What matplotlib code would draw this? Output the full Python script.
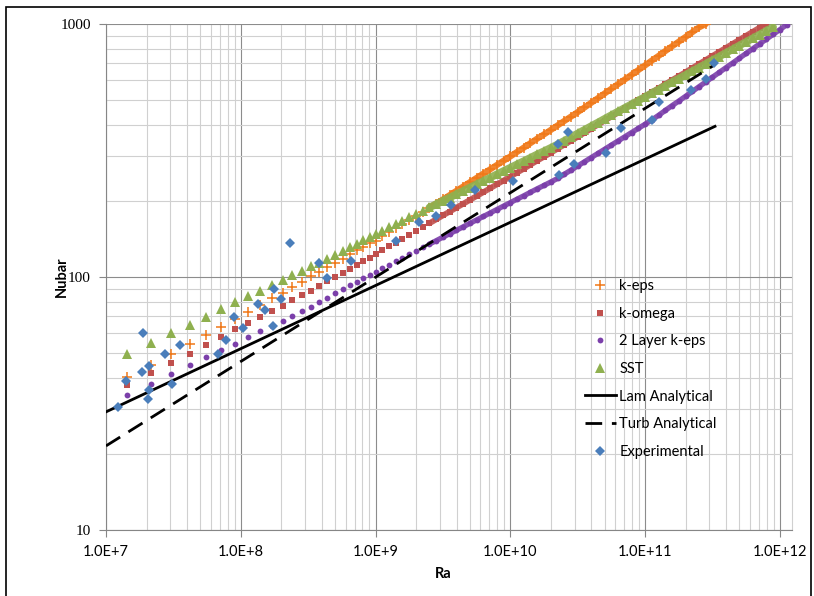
import matplotlib
matplotlib.use("Agg")
import matplotlib.pyplot as plt
from matplotlib.patches import Rectangle
from matplotlib.ticker import LogLocator, NullFormatter

# Ra values shared by the CFD series (sparse at low Ra, dense band above 1e9)
ra = [1.44e7, 2.15e7, 3.05e7, 4.17e7, 5.55e7, 7.19e7, 9.13e7, 1.14e8, 1.40e8, 1.70e8,
      2.04e8, 2.41e8, 2.84e8, 3.31e8, 3.83e8, 4.40e8, 5.02e8, 5.71e8, 6.45e8, 7.25e8,
      8.12e8, 9.05e8, 1.005e9,
      1.12e9, 1.26e9, 1.41e9, 1.58e9, 1.78e9, 2.00e9, 2.24e9, 2.51e9, 2.82e9, 3.16e9,
      3.55e9, 3.98e9, 4.47e9, 5.01e9, 5.62e9, 6.31e9, 7.08e9, 7.94e9, 8.91e9, 1.00e10,
      1.12e10, 1.26e10, 1.41e10, 1.58e10, 1.78e10, 2.00e10, 2.24e10, 2.51e10, 2.82e10, 3.16e10,
      3.55e10, 3.98e10, 4.47e10, 5.01e10, 5.62e10, 6.31e10, 7.08e10, 7.94e10, 8.91e10, 1.00e11,
      1.12e11, 1.26e11, 1.41e11, 1.58e11, 1.78e11, 2.00e11, 2.24e11, 2.51e11, 2.82e11, 3.16e11,
      3.55e11, 3.98e11, 4.47e11, 5.01e11, 5.62e11, 6.31e11, 7.08e11, 7.94e11, 8.91e11, 1.00e12,
      1.12e12]

nu_keps = [40.4, 44.9, 49.6, 54.4, 59.0, 63.6, 68.1, 72.9, 77.5, 82.4, 86.7, 91.6, 95.8,
           100.9, 104.9, 109.2, 113.9, 118.3, 122.9, 127.9, 131.8, 135.9, 139.4,
           144.6, 150.2, 155.9, 161.8, 168.0, 174.4, 181.0, 187.9, 195.1, 202.5,
           210.6, 219.0, 227.8, 236.9, 246.3, 256.2, 266.4, 277.0, 288.1, 299.6,
           311.9, 324.7, 338.1, 352.0, 366.4, 381.5, 397.2, 413.5, 430.5, 448.2,
           467.7, 488.1, 509.3, 531.5, 554.6, 578.8, 604.0, 630.2, 657.7, 686.3,
           716.7, 748.2, 781.2, 815.6, 851.8, 889.2, 928.5, 969.4, 1000]

nu_komega = [37.4, 41.6, 45.9, 49.6, 53.8, 58.1, 62.1, 65.6, 69.5, 73.6, 77.0, 81.1, 85.1,
             88.3, 92.4, 96.2, 100.3, 103.4, 107.5, 111.5, 115.3, 119.2, 122.9,
             127.4, 132.0, 136.7, 141.6, 146.7, 152.0, 157.5, 163.1, 169.0, 175.1,
             181.4, 187.9, 194.7, 201.6, 208.9, 216.4, 224.2, 232.3, 240.6, 249.3,
             258.5, 268.0, 278.0, 288.2, 298.9, 309.9, 321.4, 333.2, 345.5, 358.2,
             371.7, 385.6, 400.1, 415.1, 430.6, 446.8, 463.5, 480.9, 498.9, 517.6,
             537.0, 557.1, 578.0, 599.7, 622.2, 645.5, 669.7, 694.8, 720.8, 747.8,
             775.9, 804.9, 835.1, 866.4, 898.9, 932.6, 967.5, 1000]

nu_2layer = [34.2, 37.7, 41.3, 44.7, 48.1, 51.3, 54.5, 58.1, 61.3, 64.3, 67.2, 70.3, 73.4,
             76.4, 79.4, 82.8, 86.2, 89.4, 93.0, 95.8, 98.8, 102.1, 104.9,
             108.3, 111.7, 115.3, 119.0, 122.8, 126.7, 130.8, 134.9, 139.2, 143.7,
             148.3, 153.0, 157.9, 162.9, 168.1, 173.5, 179.1, 184.8, 190.7, 196.8,
             203.0, 209.5, 216.2, 223.1, 230.2, 237.6, 245.2, 254.7, 264.5, 274.8,
             285.4, 296.5, 308.0, 319.9, 332.3, 345.1, 358.5, 372.4, 386.8, 401.8,
             417.4, 435.8, 455.1, 475.2, 496.2, 518.2, 541.1, 565.1, 590.1, 616.2,
             643.5, 672.0, 701.7, 732.8, 765.2, 799.1, 834.5, 871.4, 910.0, 950.3,
             992.0]

nu_sst = [49.6, 54.7, 59.9, 64.4, 69.7, 74.5, 79.6, 84.1, 88.3, 93.0, 96.9, 101.8, 105.8,
          110.2, 113.9, 118.3, 122.7, 127.1, 131.4, 135.6, 140.0, 143.9, 147.9,
          152.4, 157.1, 161.9, 166.9, 172.0, 177.2, 182.7, 188.3, 194.0, 200.0,
          206.1, 212.4, 218.9, 225.7, 232.6, 239.7, 247.0, 254.6, 262.4, 270.4,
          278.7, 287.2, 296.0, 305.1, 314.4, 324.1, 334.0, 345.3, 357.1, 369.2,
          381.7, 394.6, 408.0, 421.9, 436.2, 451.0, 466.3, 482.0, 498.3, 515.2,
          532.7, 550.8, 569.5, 588.8, 608.8, 629.5, 650.9, 673.0, 695.8, 719.4,
          743.9, 769.1, 795.2, 822.2, 850.1, 879.0, 908.8, 939.7, 971.6]

# analytical correlations (straight lines on log-log)
ra_lam = [1.0e7, 3.3e11]
nu_lam = [29.3, 394.0]
ra_turb = [1.0e7, 3.3e11]
nu_turb = [21.5, 691.0]

# experimental points
ra_exp = [1.23e7, 1.41e7, 1.84e7, 1.87e7, 2.06e7, 2.08e7, 2.10e7, 2.76e7, 3.07e7, 3.56e7,
          6.77e7, 7.77e7, 8.95e7, 1.03e8, 1.34e8, 1.52e8, 1.73e8, 1.75e8, 1.99e8, 2.32e8,
          3.82e8, 4.40e8, 6.57e8, 1.43e9, 2.11e9, 2.79e9, 3.63e9, 5.44e9, 1.05e10, 2.25e10,
          2.66e10, 2.29e10, 2.97e10, 5.12e10, 6.62e10, 1.12e11, 1.27e11, 2.19e11, 2.81e11, 3.22e11]
nu_exp = [30.7, 38.8, 42.1, 59.9, 32.9, 35.8, 44.6, 49.6, 37.9, 53.8,
          49.5, 56.5, 69.8, 62.9, 78.0, 74.1, 64.3, 89.4, 82.1, 136.6,
          113.3, 98.8, 116.0, 139.4, 164.5, 174.2, 193.1, 220.1, 240.3, 336.5,
          375.2, 251.9, 279.8, 310.5, 387.0, 417.5, 491.7, 547.1, 604.5, 699.4]

xticks = [1e7, 1e8, 1e9, 1e10, 1e11, 1e12]
xlabels = ['1.0E+7', '1.0E+8', '1.0E+9', '1.0E+10', '1.0E+11', '1.0E+12']
yticks = [10, 100, 1000]
ylabels = ['10', '100', '1000']

W, H = 814, 596
fig = plt.figure(figsize=(W / 100, H / 100), dpi=100)
ax = fig.add_axes([106 / W, 1 - 530 / H, 686 / W, 506 / H])
ax.set_xscale('log')
ax.set_yscale('log')

# where the CFD markers crowd together into a solid band
band = 30


def cfd(nu, marker, ms, mew, color, label, z, lw):
    x = ra[:len(nu)]
    # overlapping markers at high Ra look like a thick band in the original
    ax.plot(x[band:], nu[band:], '-', color=color, lw=lw, alpha=0.9,
            solid_capstyle='round', zorder=z)
    ax.plot(x, nu, ls='none', marker=marker, ms=ms, mew=mew, color=color,
            label=label, zorder=z)


cfd(nu_keps, '+', 7, 1.1, '#F07818', 'k-eps', 3, 4.5)
cfd(nu_komega, 's', 4.2, 0, '#C0504D', 'k-omega', 3.1, 4.2)
cfd(nu_2layer, 'o', 4.2, 0, '#7B3FAA', '2 Layer k-eps', 3.2, 3.8)
cfd(nu_sst, '^', 7, 0, '#8FB04F', 'SST', 3.3, 5.5)
ax.plot(ra_lam, nu_lam, '-', color='black', lw=2.0, label='Lam Analytical', zorder=3.4)
ax.plot(ra_turb, nu_turb, '--', color='black', lw=2.0, dashes=(6, 3.5),
        label='Turb Analytical', zorder=3.5)
ax.plot(ra_exp, nu_exp, ls='none', marker='D', ms=5.5, mew=0,
        color='#4A7EBB', label='Experimental', zorder=3.6)

ax.set_xlim(1e7, 1.23e12)
ax.set_ylim(10, 1000)

ax.set_xticks(xticks, xlabels, fontfamily='Lato', fontsize=10.5)
ax.set_yticks(yticks, ylabels, fontfamily='Liberation Serif', fontsize=11)
ax.xaxis.set_minor_locator(LogLocator(base=10, subs=range(2, 10), numticks=30))
ax.yaxis.set_minor_locator(LogLocator(base=10, subs=range(2, 10), numticks=30))
ax.xaxis.set_minor_formatter(NullFormatter())
ax.yaxis.set_minor_formatter(NullFormatter())
ax.tick_params(which='major', direction='out', length=5, width=0.8, color='#868686', pad=6)
ax.tick_params(which='minor', length=0)

ax.set_axisbelow(True)
ax.grid(which='major', color='#8c8c8c', lw=0.8)
ax.grid(which='minor', color='#d0d0d0', lw=0.8)
for s in ['left', 'bottom']:
    ax.spines[s].set_color('#868686')
    ax.spines[s].set_linewidth(0.8)
ax.spines['top'].set_visible(False)
ax.spines['right'].set_color('#d0d0d0')
ax.spines['right'].set_linewidth(0.8)

fig.text(443 / W, 1 - 574 / H, 'Ra', ha='center', va='center',
         fontfamily='Lato', fontweight='bold', fontsize=10.5)
fig.text(62 / W, 1 - 277 / H, 'Nubar', ha='center', va='center', rotation=90,
         fontfamily='Lato', fontweight='bold', fontsize=10.5)

ax.legend(loc='upper left', bbox_to_anchor=(585 / W, 1 - 279 / H),
          bbox_transform=fig.transFigure, frameon=False, numpoints=1,
          prop={'family': 'Lato', 'size': 10.5}, handlelength=2.1,
          handletextpad=0.25, labelspacing=0.935, borderpad=0, borderaxespad=0)

fig.patches.append(Rectangle((6 / W, -0.05), 805 / W, 1.05 - 6.5 / H,
                             transform=fig.transFigure, fill=False,
                             ec='black', lw=1.2))

fig.savefig('out.png', dpi=100, facecolor='white')
